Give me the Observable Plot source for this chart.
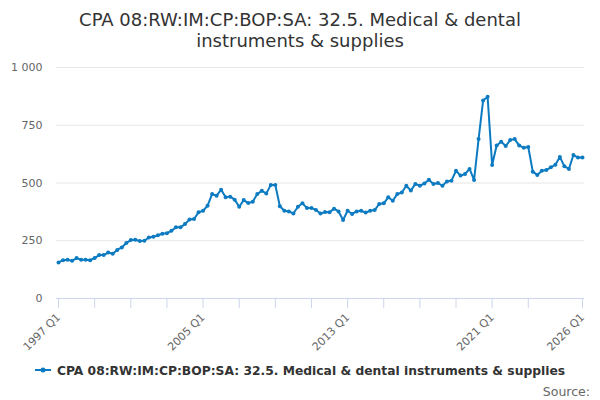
<!DOCTYPE html>
<html><head><meta charset="utf-8">
<script src="https://cdn.jsdelivr.net/npm/d3@7"></script>
<script src="https://cdn.jsdelivr.net/npm/@observablehq/plot@0.6"></script>
<style>
body{margin:0;background:#fff;font-family:"DejaVu Sans",sans-serif;}
#wrap{position:relative;width:600px;height:400px;overflow:hidden;background:#fff}
#title{position:absolute;top:9px;left:0;width:600px;text-align:center;font-size:18px;line-height:21px;color:#333}
#chart{position:absolute;top:0;left:0}
#legend{position:absolute;top:364px;left:0;width:600px;text-align:center;font-size:12.3px;font-weight:bold;color:#333;white-space:nowrap}
#source{position:absolute;top:384px;right:10px;font-size:12.5px;color:#666}
</style></head><body>
<div id="wrap">
<div id="chart"></div>
<div id="title"></div>
<div id="legend"></div>
<div id="source">Source:</div>
</div>
<script>
const titleText = "CPA 08:RW:IM:CP:BOP:SA: 32.5. Medical & dental instruments & supplies";
const titleLines = ["CPA 08:RW:IM:CP:BOP:SA: 32.5. Medical & dental", "instruments & supplies"];
const startYear = 1997;
const values = [
  156,166,168,163,175,168,168,166,175,188,188,199,194,210,221,240,
  253,254,249,250,264,267,274,280,283,293,308,308,322,342,344,373,
  380,402,452,445,471,438,441,428,397,426,413,419,452,466,455,491,
  491,399,380,377,368,397,412,392,392,383,368,374,373,389,377,340,
  380,366,377,380,372,380,383,409,412,438,423,452,459,488,467,496,
  488,498,514,496,500,488,507,510,553,532,539,561,513,690,857,873,
  578,662,679,660,686,690,662,653,656,549,535,553,556,568,579,613,
  572,561,621,610,610
];
const yTicks = [0, 250, 500, 750, 1000];
const xTickYears = [1997,1999,2001,2003,2005,2007,2009,2011,2013,2015,2017,2019,2021,2023,2026];
const xLabelYears = [1997, 2005, 2013, 2021, 2026];
const lineColor = "#0c7bc2";

const quarters = values.map((v, i) => `${startYear + Math.floor(i / 4)} Q${(i % 4) + 1}`);
const data = values.map((v, i) => ({i, q: quarters[i], v}));
const tickIdx = xTickYears.map(y => (y - startYear) * 4);
const labelIdx = xLabelYears.map(y => (y - startYear) * 4);
const n = values.length - 1;
const fmt = d3.formatLocale({decimal: ".", thousands: " ", grouping: [3], currency: ["", ""]}).format(",");

document.getElementById("title").innerHTML = titleLines.map(s => s.replace(/&/g, "&amp;")).join("<br>");
document.getElementById("legend").innerHTML =
  `<svg width="16" height="12" style="vertical-align:-1px;margin-right:6px"><line x1="0" y1="6" x2="16" y2="6" stroke="${lineColor}" stroke-width="2"/><circle cx="8" cy="6" r="2.5" fill="${lineColor}"/></svg>` +
  titleText.replace(/&/g, "&amp;");

const chart = Plot.plot({
  width: 600, height: 400,
  marginTop: 67, marginBottom: 102, marginLeft: 56, marginRight: 16,
  x: {domain: [-0.45, n + 0.45], axis: null},
  y: {domain: [0, 1000], axis: null},
  style: {fontFamily: "DejaVu Sans, sans-serif", fontSize: "11px", background: "transparent", overflow: "visible"},
  marks: [
    Plot.gridY(yTicks.slice(1), {stroke: "#e6e6e6", strokeOpacity: 1}),
    Plot.axisY(yTicks, {tickSize: 0, tickPadding: 14, tickFormat: fmt, fill: "#666", fontSize: 11, label: null}),
    Plot.ruleY([0], {stroke: "#ccd6eb"}),
    Plot.axisX(tickIdx, {tickSize: 10, tickFormat: () => "", stroke: "#ccd6eb", label: null}),
    Plot.axisX(labelIdx, {tickSize: 0, tickPadding: 17, tickRotate: -45, tickFormat: i => quarters[i], fill: "#666", fontSize: 11, label: null}),
    Plot.line(data, {x: "i", y: "v", stroke: lineColor, strokeWidth: 2}),
    Plot.dot(data, {x: "i", y: "v", r: 2, fill: lineColor})
  ]
});
document.getElementById("chart").appendChild(chart);
</script>
</body></html>
